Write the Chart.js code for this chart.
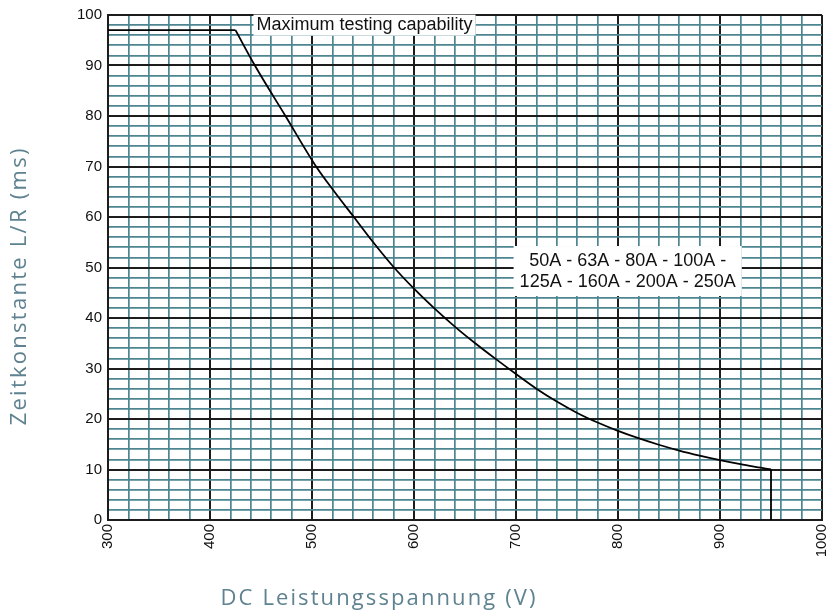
<!DOCTYPE html>
<html>
<head>
<meta charset="utf-8">
<script src="https://cdn.jsdelivr.net/npm/chart.js@4.4.0/dist/chart.umd.min.js"></script>
<style>
    html, body { margin: 0; padding: 0; background: #fff; }
    #wrap { width: 828px; height: 615px; }
</style>
</head>
<body>
<div id="wrap"><canvas id="myChart"></canvas></div>
<script>
// plateau = maximum testing capability
const capVolt = [300, 425]
const capTau = [97, 97]

// L/R limit curve
const curveVolt = [425, 444, 474, 504, 522, 541, 560, 580, 600, 620, 640, 660, 680, 700, 720, 740, 760, 780, 800, 820, 840, 860, 880, 900, 920, 940, 950]
const curveTau = [97, 90, 80, 70, 65, 60, 55, 50.1, 45.8, 41.9, 38.3, 35, 31.9, 28.9, 26, 23.45, 21.2, 19.3, 17.65, 16.2, 14.9, 13.75, 12.75, 11.85, 11.05, 10.35, 10]

// vertical cut-off at the end of the curve
const cutVolt = [950, 950]
const cutTau = [10, 0]

const xTicks = [300, 400, 500, 600, 700, 800, 900, 1000]
const yTicks = [0, 10, 20, 30, 40, 50, 60, 70, 80, 90, 100]

const xTitle = 'DC Leistungsspannung (V)'
const yTitle = 'Zeitkonstante L/R (ms)'

// text boxes on the plot, anchored in data units
const notes = [
    { lines: ['Maximum testing capability'], x: 551.5, y: 98 },
    { lines: ['50A - 63A - 80A - 100A -', '125A - 160A - 200A - 250A'], x: 809.5, y: 49.3 },
]

const toPoints = (xs, ys) => xs.map((x, i) => ({ x: x, y: ys[i] }))

const MAJOR = '#1c1c1c'
const MINOR = '#4d8590'
const TITLE = '#5e8290'

const notesPlugin = {
    id: 'notes',
    afterDatasetsDraw(chart) {
        const ctx = chart.ctx
        const sx = chart.scales.x
        const sy = chart.scales.y
        ctx.save()
        ctx.font = '18px "Liberation Sans", Arial, sans-serif'
        ctx.textAlign = 'center'
        ctx.textBaseline = 'middle'
        notes.forEach(n => {
            const cx = sx.getPixelForValue(n.x)
            const cy = sy.getPixelForValue(n.y)
            const lh = 21
            const w = Math.max(...n.lines.map(l => ctx.measureText(l).width))
            const h = lh * n.lines.length
            const padX = n.lines.length > 1 ? 6 : 3
            const padY = n.lines.length > 1 ? 4 : 0
            ctx.fillStyle = '#fff'
            ctx.fillRect(cx - w / 2 - padX, cy - h / 2 - padY, w + 2 * padX, h + 2 * padY)
            ctx.fillStyle = '#111'
            n.lines.forEach((l, i) => {
                ctx.fillText(l, cx, cy - h / 2 + lh * i + lh / 2)
            })
        })
        ctx.restore()
    }
}

// wide title text: spread letters to the wanted length
function spreadText(ctx, text, x, y, width) {
    ctx.letterSpacing = '0px'
    const base = ctx.measureText(text).width
    const sp = Math.max(0, (width - base) / text.length)
    ctx.letterSpacing = sp + 'px'
    ctx.fillText(text, x + sp / 2, y)
    ctx.letterSpacing = '0px'
}

const titlesPlugin = {
    id: 'titles',
    afterDraw(chart) {
        const ctx = chart.ctx
        ctx.save()
        ctx.fillStyle = TITLE
        ctx.font = '22px "Open Sans", sans-serif'
        ctx.textAlign = 'center'
        ctx.textBaseline = 'middle'
        spreadText(ctx, xTitle, 378, 599, 317)
        ctx.translate(20, 287)
        ctx.rotate(-Math.PI / 2)
        spreadText(ctx, yTitle, 0, 0, 279)
        ctx.restore()
    }
}

const lineStyle = {
    borderColor: '#000',
    borderWidth: 1.8,
    pointRadius: 0,
    showLine: true,
    fill: false,
}

const ctx = document.getElementById('myChart').getContext('2d')

new Chart(ctx, {
    type: 'scatter',
    data: {
        datasets: [
            { ...lineStyle, data: toPoints(capVolt, capTau), tension: 0 },
            { ...lineStyle, data: toPoints(curveVolt, curveTau), cubicInterpolationMode: 'monotone' },
            { ...lineStyle, data: toPoints(cutVolt, cutTau), tension: 0 },
        ]
    },
    options: {
        responsive: true,
        maintainAspectRatio: false,
        animation: false,
        layout: { padding: { top: 13, right: 6, left: 0, bottom: 0 } },
        plugins: {
            legend: { display: false },
            tooltip: { enabled: false },
        },
        scales: {
            x: {
                type: 'linear',
                min: 300,
                max: 1000,
                afterFit(scale) {
                    scale.height = 95
                    scale.paddingLeft = 0
                    scale.paddingRight = 0
                },
                border: { display: true, color: MAJOR, width: 2 },
                grid: {
                    drawTicks: false,
                    color: c => xTicks.includes(c.tick.value) ? MAJOR : MINOR,
                    lineWidth: c => xTicks.includes(c.tick.value) ? 2 : 1.7,
                },
                ticks: {
                    stepSize: 20,
                    autoSkip: false,
                    maxRotation: 90,
                    minRotation: 90,
                    padding: 4,
                    color: '#111',
                    font: { family: '"Liberation Sans", Arial, sans-serif', size: 15 },
                    callback: v => xTicks.includes(v) ? String(v) : '',
                },
            },
            y: {
                type: 'linear',
                min: 0,
                max: 100,
                afterFit(scale) { scale.width = 108 },
                border: { display: true, color: MAJOR, width: 2 },
                grid: {
                    drawTicks: false,
                    color: c => yTicks.includes(c.tick.value) ? MAJOR : MINOR,
                    lineWidth: c => yTicks.includes(c.tick.value) ? 2 : 1.7,
                },
                ticks: {
                    stepSize: 2,
                    autoSkip: false,
                    padding: 6,
                    color: '#111',
                    font: { family: '"Liberation Sans", Arial, sans-serif', size: 15 },
                    callback: v => yTicks.includes(v) ? String(v) : '',
                },
            },
        },
    },
    plugins: [notesPlugin, titlesPlugin],
})
</script>
</body>
</html>
